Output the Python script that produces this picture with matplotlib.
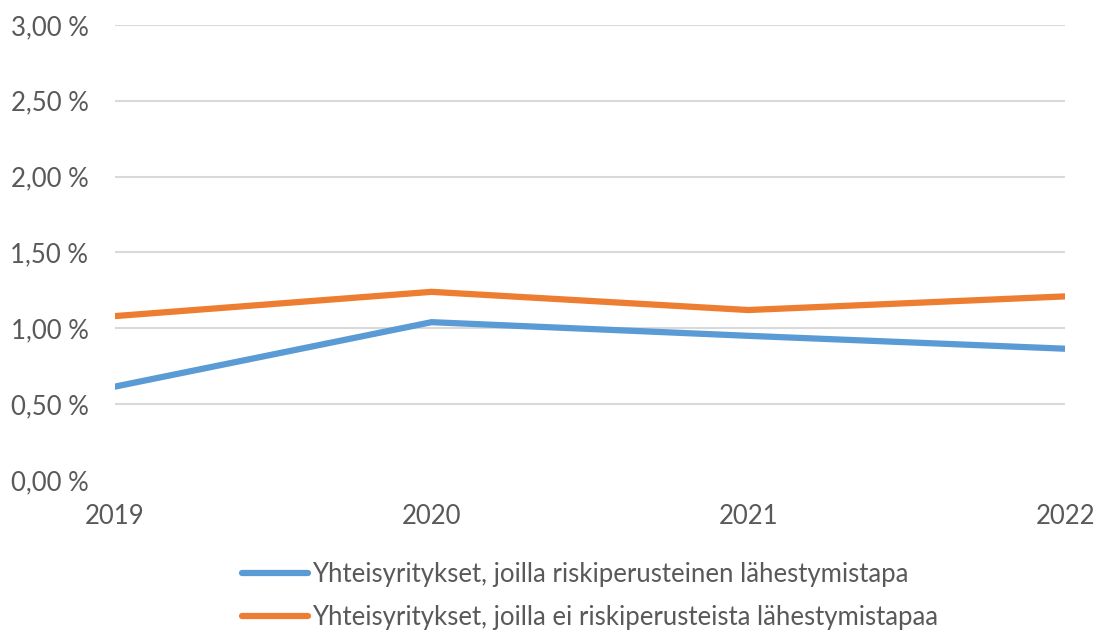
import matplotlib.pyplot as plt
from matplotlib.ticker import FuncFormatter

years = ["2019", "2020", "2021", "2022"]
riskiperusteinen = [0.615, 1.04, 0.95, 0.865]
ei_riskiperusteinen = [1.08, 1.24, 1.12, 1.21]
labels = [
    "Yhteisyritykset, joilla riskiperusteinen lähestymistapa",
    "Yhteisyritykset, joilla ei riskiperusteista lähestymistapaa",
]
yticks = [0.0, 0.5, 1.0, 1.5, 2.0, 2.5, 3.0]

TEXT = "#595959"
plt.rcParams["font.family"] = ["Lato", "DejaVu Sans"]

fig = plt.figure(figsize=(10.94, 6.39), dpi=100)
ax = fig.add_axes([0.105, 0.249, 0.8685, 0.712])

x = range(len(years))
ax.plot(x, riskiperusteinen, color="#5B9BD5", lw=4.5, solid_capstyle="round",
        solid_joinstyle="round", label=labels[0])
ax.plot(x, ei_riskiperusteinen, color="#ED7D31", lw=4.5, solid_capstyle="round",
        solid_joinstyle="round", label=labels[1])

ax.set_xlim(0, len(years) - 1)
ax.set_ylim(0, 3.0)
ax.set_xticks(list(x))
ax.set_xticklabels(years)
ax.set_yticks(yticks)
ax.yaxis.set_major_formatter(
    FuncFormatter(lambda v, _: f"{v:.2f}".replace(".", ",") + " %"))
ax.grid(axis="y", color="#D9D9D9", lw=1.5)
ax.get_ygridlines()[0].set_visible(False)
ax.set_axisbelow(True)
for s in ax.spines.values():
    s.set_visible(False)
ax.tick_params(length=0, labelsize=18.5, colors=TEXT)
ax.tick_params(axis="y", pad=19)
ax.tick_params(axis="x", pad=17)

ax.legend(loc="upper center", bbox_to_anchor=(0.5, -0.14), ncol=1, frameon=False,
          fontsize=18.5, labelcolor=TEXT, handlelength=2.6, handletextpad=0.15,
          labelspacing=0.72, borderaxespad=0.3)

fig.savefig("out.png", dpi=100)
